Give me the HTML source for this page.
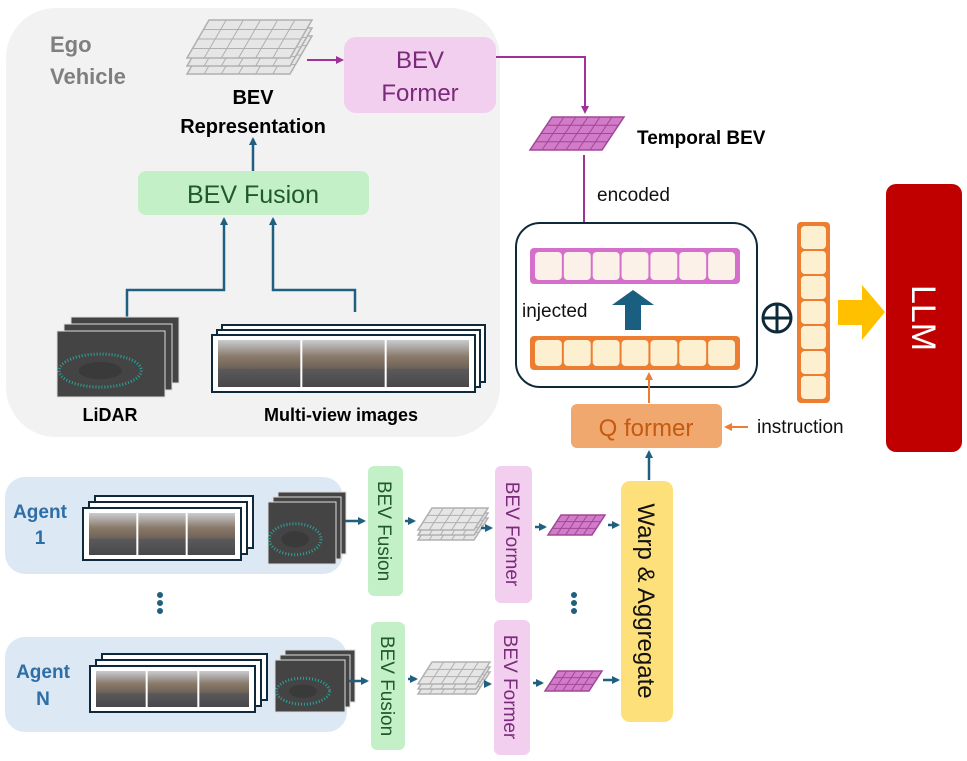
<!DOCTYPE html>
<html><head><meta charset="utf-8"><style>
body{margin:0;background:#fff;}
svg{display:block;font-family:"Liberation Sans",sans-serif;}
</style></head><body>
<svg id="s" width="967" height="761" viewBox="0 0 967 761">
<defs>
<marker id="ab" markerWidth="8" markerHeight="8" refX="6" refY="4" orient="auto" markerUnits="userSpaceOnUse"><path d="M0,0 L8,4 L0,8 z" fill="#1f6080"/></marker>
<marker id="ap" markerWidth="8" markerHeight="8" refX="6" refY="4" orient="auto" markerUnits="userSpaceOnUse"><path d="M0,0 L8,4 L0,8 z" fill="#a0309a"/></marker>
<marker id="ao" markerWidth="8" markerHeight="8" refX="6" refY="4" orient="auto" markerUnits="userSpaceOnUse"><path d="M0,0 L8,4 L0,8 z" fill="#ed7d31"/></marker>
<linearGradient id="street" x1="0" y1="0" x2="0" y2="1">
<stop offset="0" stop-color="#c9ccd0"/><stop offset="0.35" stop-color="#8a7a6a"/><stop offset="0.6" stop-color="#6e6258"/><stop offset="0.62" stop-color="#5a5a5c"/><stop offset="1" stop-color="#48484a"/>
</linearGradient>
</defs>

<rect x="6" y="8" width="494" height="429" rx="50" fill="#f2f2f2"/>
<text x="50" y="52" font-size="22" font-weight="bold" fill="#7f7f7f">Ego</text>
<text x="50" y="84" font-size="22" font-weight="bold" fill="#7f7f7f">Vehicle</text>
<g id="egogrid"></g>
<text x="253" y="104" font-size="20" font-weight="bold" text-anchor="middle">BEV</text>
<text x="253" y="133" font-size="20" font-weight="bold" text-anchor="middle">Representation</text>

<rect x="344" y="37" width="152" height="76" rx="12" fill="#f2cfee"/>
<text x="420" y="68" font-size="24" fill="#7a2a7a" text-anchor="middle">BEV</text>
<text x="420" y="101" font-size="24" fill="#7a2a7a" text-anchor="middle">Former</text>
<line x1="307" y1="60" x2="342" y2="60" stroke="#a0309a" stroke-width="2" marker-end="url(#ap)"/>
<polyline points="496,57 585,57 585,112" fill="none" stroke="#a0309a" stroke-width="2" marker-end="url(#ap)"/>
<g id="tempgrid"></g>
<text x="637" y="144" font-size="19" font-weight="bold">Temporal BEV</text>
<text x="597" y="201" font-size="19" fill="#111">encoded</text>
<line x1="584" y1="155" x2="584" y2="244" stroke="#a0309a" stroke-width="2" marker-end="url(#ap)"/>

<rect x="138" y="171" width="231" height="44" rx="8" fill="#c4f0c8"/>
<text x="253" y="203" font-size="25" fill="#1f5a2a" text-anchor="middle">BEV Fusion</text>
<line x1="253" y1="171" x2="253" y2="139" stroke="#1f6080" stroke-width="2.5" marker-end="url(#ab)"/>
<polyline points="127,318 127,290 224,290 224,219" fill="none" stroke="#1f6080" stroke-width="2.5" marker-end="url(#ab)"/>
<polyline points="355,312 355,290 273,290 273,219" fill="none" stroke="#1f6080" stroke-width="2.5" marker-end="url(#ab)"/>
<g id="egolidar"></g>
<g id="egoimgs"></g>
<text x="110" y="421" font-size="18" font-weight="bold" text-anchor="middle">LiDAR</text>
<text x="341" y="421" font-size="18" font-weight="bold" text-anchor="middle">Multi-view images</text>

<rect x="516" y="223" width="241" height="164" rx="24" fill="#fff" stroke="#0e2a3a" stroke-width="2"/>
<g id="purplebar"></g>
<g id="orangebar"></g>
<path d="M625,330 L625,305 L612,305 L633,290 L654,305 L641,305 L641,330 z" fill="#1a5f80"/>
<text x="522" y="317" font-size="19" fill="#111">injected</text>
<circle cx="777" cy="318" r="14" fill="none" stroke="#0e2a3a" stroke-width="3"/>
<line x1="763" y1="318" x2="791" y2="318" stroke="#0e2a3a" stroke-width="3"/>
<line x1="777" y1="304" x2="777" y2="332" stroke="#0e2a3a" stroke-width="3"/>
<g id="colbar"></g>
<path d="M838,300 L862,300 L862,285 L885,312 L862,340 L862,325 L838,325 z" fill="#ffc000"/>
<rect x="886" y="184" width="76" height="268" rx="10" fill="#c00000"/>
<text transform="translate(912,318) rotate(90)" font-size="34" fill="#fff" text-anchor="middle">LLM</text>

<rect x="571" y="404" width="151" height="44" rx="6" fill="#f0a86f"/>
<text x="646" y="436" font-size="24" fill="#c55a11" text-anchor="middle">Q former</text>
<line x1="649" y1="403" x2="649" y2="374" stroke="#ed7d31" stroke-width="2" marker-end="url(#ao)"/>
<line x1="748" y1="427" x2="726" y2="427" stroke="#ed7d31" stroke-width="2" marker-end="url(#ao)"/>
<text x="757" y="433" font-size="19" fill="#111">instruction</text>
<line x1="649" y1="480" x2="649" y2="452" stroke="#1f6080" stroke-width="2.5" marker-end="url(#ab)"/>

<rect x="5" y="477" width="338" height="97" rx="20" fill="#dde8f5"/>
<text x="40" y="518" font-size="19" font-weight="bold" fill="#2e6ea6" text-anchor="middle">Agent</text>
<text x="40" y="544" font-size="19" font-weight="bold" fill="#2e6ea6" text-anchor="middle">1</text>
<rect x="5" y="637" width="342" height="95" rx="20" fill="#dde8f5"/>
<text x="43" y="678" font-size="19" font-weight="bold" fill="#2e6ea6" text-anchor="middle">Agent</text>
<text x="43" y="705" font-size="19" font-weight="bold" fill="#2e6ea6" text-anchor="middle">N</text>
<g id="a1imgs"></g><g id="a1lidar"></g><g id="anims"></g><g id="anlidar"></g>

<g fill="#1f6080"><circle cx="160" cy="595" r="3"/><circle cx="160" cy="603" r="3"/><circle cx="160" cy="611" r="3"/></g>
<g fill="#1f6080"><circle cx="574" cy="595" r="3"/><circle cx="574" cy="603" r="3"/><circle cx="574" cy="611" r="3"/></g>

<rect x="368" y="466" width="35" height="130" rx="6" fill="#c4f0c8"/>
<text transform="translate(378,531) rotate(90)" font-size="19" fill="#1f5a2a" text-anchor="middle">BEV Fusion</text>
<rect x="495" y="466" width="37" height="137" rx="6" fill="#f2cfee"/>
<text transform="translate(506,534) rotate(90)" font-size="19" fill="#7a2a7a" text-anchor="middle">BEV Former</text>
<rect x="371" y="622" width="34" height="128" rx="6" fill="#c4f0c8"/>
<text transform="translate(381,686) rotate(90)" font-size="19" fill="#1f5a2a" text-anchor="middle">BEV Fusion</text>
<rect x="494" y="620" width="36" height="135" rx="6" fill="#f2cfee"/>
<text transform="translate(504,687) rotate(90)" font-size="19" fill="#7a2a7a" text-anchor="middle">BEV Former</text>
<rect x="621" y="481" width="52" height="241" rx="9" fill="#fde07a"/>
<text transform="translate(638,601) rotate(90)" font-size="24" fill="#111" text-anchor="middle">Warp &amp; Aggregate</text>
<g id="agridA"></g><g id="agridB"></g><g id="pgridA"></g><g id="pgridB"></g>
<g stroke="#1f6080" stroke-width="2.5" fill="none">
<line x1="345" y1="521" x2="364" y2="521" marker-end="url(#ab)"/>
<line x1="405" y1="521" x2="414" y2="521" marker-end="url(#ab)"/>
<line x1="481" y1="528" x2="491" y2="528" marker-end="url(#ab)"/>
<line x1="535" y1="527" x2="545" y2="527" marker-end="url(#ab)"/>
<line x1="608" y1="525" x2="618" y2="525" marker-end="url(#ab)"/>
<line x1="349" y1="681" x2="367" y2="681" marker-end="url(#ab)"/>
<line x1="408" y1="679" x2="416" y2="679" marker-end="url(#ab)"/>
<line x1="484" y1="684" x2="490" y2="684" marker-end="url(#ab)"/>
<line x1="533" y1="683" x2="542" y2="683" marker-end="url(#ab)"/>
<line x1="603" y1="680" x2="618" y2="680" marker-end="url(#ab)"/>
</g>
</svg>
<script>
const NS="http://www.w3.org/2000/svg";
function el(parent,tag,attrs){const e=document.createElementNS(NS,tag);for(const k in attrs)e.setAttribute(k,attrs[k]);document.getElementById(parent).appendChild(e);return e;}
function grid(p,x,y,w,h,sk,cols,rows,fill,stroke,layers,dy){
 for(let L=layers-1;L>=0;L--){const oy=y+L*dy;
  el(p,'polygon',{points:`${x+sk},${oy} ${x+sk+w},${oy} ${x+w},${oy+h} ${x},${oy+h}`,fill:fill,stroke:stroke,'stroke-width':1.5});
  for(let c=1;c<cols;c++){const f=c/cols;el(p,'line',{x1:x+sk+w*f,y1:oy,x2:x+w*f,y2:oy+h,stroke:stroke,'stroke-width':1});}
  for(let r=1;r<rows;r++){const f=r/rows;el(p,'line',{x1:x+sk*(1-f),y1:oy+h*f,x2:x+sk*(1-f)+w,y2:oy+h*f,stroke:stroke,'stroke-width':1});}
 }}
grid('egogrid',187,20,103,38,22,6,4,'#e6e6e6','#b0b0b0',3,8);
grid('tempgrid',530,117,72,33,22,6,4,'#d27bc9','#a04898',1,0);
grid('agridA',418,508,56,22,14,5,3,'#e6e6e6','#b0b0b0',3,5);
grid('agridB',418,662,58,22,14,5,3,'#e6e6e6','#b0b0b0',3,5);
grid('pgridA',548,515,44,20,13,5,3,'#d27bc9','#a04898',1,0);
grid('pgridB',545,671,44,20,13,5,3,'#d27bc9','#a04898',1,0);
function tokens(p,x,y,w,h,n,border,cell,vert){
 el(p,'rect',{x:x,y:y,width:w,height:h,rx:4,fill:border});
 for(let i=0;i<n;i++){
  if(vert){const ch=(h-6)/n;el(p,'rect',{x:x+4,y:y+3+i*ch+1,width:w-8,height:ch-2,rx:4,fill:cell});}
  else{const cw=(w-8)/n;el(p,'rect',{x:x+4+i*cw+1,y:y+4,width:cw-2,height:h-8,rx:4,fill:cell});}
 }}
tokens('purplebar',530,248,210,36,7,'#d46fcc','#fbf1e8',false);
tokens('orangebar',530,336,210,34,7,'#ed7d31','#fdf0d0',false);
tokens('colbar',797,222,33,181,7,'#ed7d31','#fdf0d0',true);
function lidar(p,x,y,w,h,n,d){
 for(let i=n-1;i>=0;i--){const ox=x+i*d,oy=y-i*d;
  el(p,'rect',{x:ox,y:oy,width:w,height:h,fill:'#444',stroke:'#ddd','stroke-width':1});
  el(p,'ellipse',{cx:ox+w*0.4,cy:oy+h*0.6,rx:w*0.38,ry:h*0.25,fill:'none',stroke:'#2aa39a','stroke-width':3,'stroke-dasharray':'1 2'});
  el(p,'ellipse',{cx:ox+w*0.4,cy:oy+h*0.6,rx:w*0.2,ry:h*0.13,fill:'#3a3a3a'});}}
lidar('egolidar',57,331,108,66,3,7);
lidar('a1lidar',268,502,68,62,3,5);
lidar('anlidar',275,660,70,52,3,5);
function imgs(p,x,y,w,h,n,d){
 for(let i=n-1;i>=0;i--){const ox=x+i*d,oy=y-i*d;
  el(p,'rect',{x:ox,y:oy,width:w,height:h,fill:'#fff',stroke:'#0e2a3a','stroke-width':2});
  const tw=(w-10)/3;
  for(let t=0;t<3;t++)el(p,'rect',{x:ox+5+t*tw+1,y:oy+5,width:tw-2,height:h-10,fill:'url(#street)'});}}
imgs('egoimgs',212,335,263,57,3,5);
imgs('a1imgs',83,508,158,52,3,6);
imgs('anims',90,666,165,46,3,6);
</script>
</body></html>
